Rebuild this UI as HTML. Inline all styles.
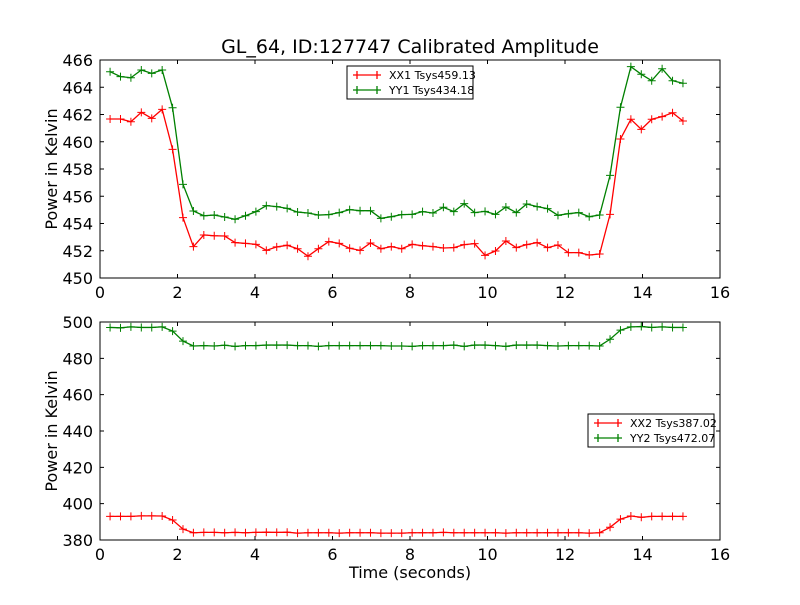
<!DOCTYPE html>
<html><head><meta charset="utf-8"><style>
body{margin:0;background:#fff}
svg{font-family:"DejaVu Sans","Liberation Sans",sans-serif}
</style></head><body>
<svg id="fig" width="800" height="600" xmlns="http://www.w3.org/2000/svg">
<rect width="800" height="600" fill="#fff"/>
<text x="410" y="53" text-anchor="middle" font-size="19">GL_64, ID:127747 Calibrated Amplitude</text>
</svg>
<script>
const xx1 = [461.67,461.67,461.47,462.16,461.72,462.38,459.44,454.43,452.30,453.16,453.10,453.08,452.60,452.54,452.47,452.03,452.28,452.40,452.15,451.60,452.15,452.67,452.54,452.18,452.03,452.57,452.15,452.30,452.15,452.47,452.37,452.30,452.20,452.23,452.45,452.52,451.66,451.98,452.72,452.23,452.45,452.60,452.23,452.42,451.86,451.86,451.69,451.76,454.67,460.20,461.65,460.91,461.65,461.84,462.13,461.52];
const yy1 = [465.14,464.78,464.70,465.27,465.02,465.27,462.50,456.87,454.92,454.57,454.62,454.48,454.31,454.57,454.87,455.31,455.24,455.11,454.84,454.77,454.62,454.65,454.80,455.02,454.94,454.94,454.38,454.50,454.65,454.67,454.87,454.77,455.19,454.87,455.46,454.80,454.89,454.67,455.21,454.80,455.43,455.24,455.09,454.60,454.72,454.80,454.50,454.62,457.53,462.53,465.51,464.95,464.48,465.36,464.48,464.29];
const xx2 = [393.0,393.0,393.0,393.3,393.3,393.2,391.0,386.0,384.0,384.2,384.2,384.0,384.2,384.0,384.2,384.3,384.2,384.3,383.8,384.0,384.0,384.0,383.8,384.0,384.0,384.0,383.8,383.8,383.8,384.0,384.0,384.0,384.2,384.0,384.0,384.0,384.0,384.0,383.8,384.0,384.0,384.0,384.0,384.0,384.0,384.0,383.8,384.0,387.0,391.5,393.2,392.5,393.0,393.0,393.0,393.0];
const yy2 = [497.0,496.8,497.3,497.0,497.0,497.3,495.0,489.5,486.8,487.0,486.8,487.2,486.6,487.0,487.0,487.3,487.3,487.3,487.0,487.0,486.6,487.0,487.0,487.0,487.0,487.0,487.0,486.8,486.8,486.6,487.0,487.0,487.0,487.3,486.6,487.3,487.3,487.0,486.6,487.3,487.3,487.3,487.0,486.8,487.0,487.0,487.0,486.8,490.5,495.5,497.3,497.5,497.0,497.3,497.0,497.0];
const t0 = 0.26, dt = 0.2688;
const xTicks = [0,2,4,6,8,10,12,14,16];
const yTicksTop = [450,452,454,456,458,460,462,464,466];
const yTicksBot = [380,400,420,440,460,480,500];
const legendTop = ["XX1 Tsys459.13","YY1 Tsys434.18"];
const legendBot = ["XX2 Tsys387.02","YY2 Tsys472.07"];

const NS="http://www.w3.org/2000/svg";
const svg=document.getElementById('fig');
function mk(tag,attrs,parent){const e=document.createElementNS(NS,tag);for(const k in attrs)e.setAttribute(k,attrs[k]);(parent||svg).appendChild(e);return e;}

function panel(name,top,bottom,ymin,ymax,yTicks,series,colors,legend,lx,ly,showXLabel){
  const L=100,R=720;
  const g=mk('g',{});
  
  
  const xs=v=>L+(v-0)/(16-0)*(R-L);
  const ys=v=>bottom-(v-ymin)/(ymax-ymin)*(bottom-top);
  // series
  series.forEach((arr,si)=>{
    const pts=arr.map((v,i)=>[xs(t0+i*dt),ys(v)]);
    const pl=mk('polyline',{points:pts.map(p=>p.join(',')).join(' '),fill:'none',stroke:colors[si],'stroke-width':1.3},g);
    
    
    let d='';pts.forEach(p=>{d+=`M${p[0]-4},${p[1]}h8M${p[0]},${p[1]-4}v8`;});
    const mp=mk('path',{d:d,stroke:colors[si],'stroke-width':1},g);
    
    
  });
  // frame
  mk('rect',{x:L,y:top,width:R-L,height:bottom-top,fill:'none',stroke:'#000','stroke-width':1},g);
  xTicks.forEach(v=>{
    const x=xs(v);
    mk('path',{d:`M${x},${bottom}v-4M${x},${top}v4`,stroke:'#000'},g);
    const tx=mk('text',{x:x,y:bottom+20,'text-anchor':'middle','font-size':16},g);
    tx.textContent=v;
    
    
  });
  yTicks.forEach(v=>{
    const y=ys(v);
    mk('path',{d:`M${L},${y}h4M${R},${y}h-4`,stroke:'#000'},g);
    const tx=mk('text',{x:L-7,y:y+6,'text-anchor':'end','font-size':16},g);
    tx.textContent=v;
    
    
  });
  const yl=mk('text',{x:0,y:0,'text-anchor':'middle','font-size':16,transform:`translate(57,${(top+bottom)/2}) rotate(-90)`},g);
  yl.textContent='Power in Kelvin';
  
  
  if(showXLabel){
    const xl=mk('text',{x:410,y:578,'text-anchor':'middle','font-size':16},g);
    xl.textContent='Time (seconds)';
    
    
  }
  // legend
  const lg=mk('g',{},g);
  
  
  mk('rect',{x:lx,y:ly,width:126,height:33,fill:'#fff',stroke:'#000','stroke-width':1},lg);
  legend.forEach((s,i)=>{
    const yy=ly+9+i*15;
    mk('path',{d:`M${lx+6},${yy}h28M${lx+10},${yy-4}v8M${lx+30},${yy-4}v8`,stroke:colors[i],'stroke-width':1.3},lg);
    const tx=mk('text',{x:lx+42,y:yy+4,'font-size':11},lg);
    tx.textContent=s;
    
    
  });
}
panel('top-panel',60,278,450,466,yTicksTop,[xx1,yy1],['#ff0000','#008000'],legendTop,347,66,false);
panel('bottom-panel',322,540,380,500,yTicksBot,[xx2,yy2],['#ff0000','#008000'],legendBot,588,414,true);
</script>
</body></html>
